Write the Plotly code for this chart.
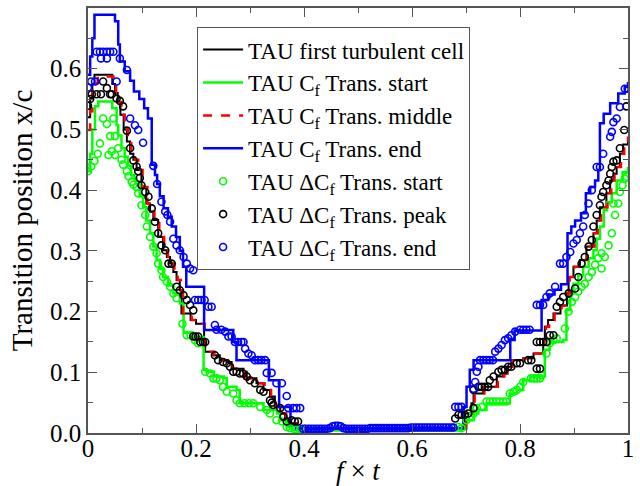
import plotly.graph_objects as go

# ---------------- line data (step curves) ----------------
black_x = [0.0, 0.004, 0.008, 0.012, 0.045, 0.050, 0.055, 0.060, 0.066, 0.072,
           0.078, 0.084, 0.09, 0.099, 0.108, 0.115, 0.121, 0.130, 0.139, 0.146,
           0.152, 0.158, 0.164, 0.170, 0.173, 0.190, 0.200, 0.215, 0.217, 0.232,
           0.244, 0.257, 0.266, 0.288, 0.294, 0.312, 0.325, 0.337, 0.346, 0.356,
           0.365, 0.374, 0.386, 0.698, 0.71, 0.714, 0.732, 0.757, 0.769, 0.775,
           0.784, 0.806, 0.825, 0.843, 0.846, 0.852, 0.862, 0.875, 0.887, 0.89,
           0.899, 0.911, 0.923, 0.936, 0.942, 0.948, 0.96, 0.967, 0.973, 0.979,
           0.985, 0.991, 1.0]
black_y = [0.52, 0.55, 0.575, 0.59, 0.575, 0.56, 0.545, 0.524, 0.50, 0.48,
           0.46, 0.45, 0.433, 0.405, 0.378, 0.365, 0.351, 0.323, 0.301, 0.29,
           0.279, 0.265, 0.252, 0.235, 0.197, 0.186, 0.18, 0.148, 0.134, 0.128,
           0.12, 0.117, 0.106, 0.101, 0.09, 0.082, 0.071, 0.06, 0.043, 0.032,
           0.021, 0.016, 0.007, 0.032, 0.049, 0.065, 0.076, 0.093, 0.098, 0.109,
           0.12, 0.123, 0.131, 0.153, 0.175, 0.186, 0.197, 0.21, 0.23, 0.257,
           0.274, 0.285, 0.307, 0.329, 0.35, 0.372, 0.395, 0.416, 0.427, 0.438,
           0.46, 0.475, 0.488]

green_x = [0.0, 0.004, 0.008, 0.013, 0.019, 0.045, 0.053, 0.056, 0.062, 0.068,
           0.074, 0.080, 0.086, 0.090, 0.096, 0.102, 0.108, 0.115, 0.121, 0.127,
           0.133, 0.139, 0.148, 0.158, 0.170, 0.177, 0.195, 0.214, 0.220, 0.233,
           0.252, 0.257, 0.275, 0.281, 0.325, 0.35, 0.356, 0.368, 0.378, 0.692,
           0.701, 0.714, 0.723, 0.738, 0.781, 0.794, 0.806, 0.819, 0.846, 0.855,
           0.880, 0.886, 0.893, 0.899, 0.908, 0.917, 0.927, 0.936, 0.942, 0.948,
           0.955, 0.961, 0.97, 0.979, 0.99, 1.0]
green_y = [0.431, 0.46, 0.50, 0.538, 0.546, 0.535, 0.507, 0.49, 0.469, 0.455,
           0.44, 0.425, 0.418, 0.411, 0.39, 0.372, 0.35, 0.329, 0.307, 0.285,
           0.27, 0.257, 0.243, 0.23, 0.2135, 0.165, 0.158, 0.104, 0.101, 0.093,
           0.09, 0.076, 0.071, 0.049, 0.038, 0.032, 0.021, 0.0104, 0.004, 0.008,
           0.021, 0.032, 0.038, 0.049, 0.065, 0.071, 0.087, 0.093, 0.137, 0.15,
           0.153, 0.2025, 0.23, 0.246, 0.26, 0.274, 0.288, 0.301, 0.32, 0.34,
           0.367, 0.38, 0.395, 0.416, 0.43, 0.438]

red_x = [0.0, 0.004, 0.008, 0.018, 0.047, 0.052, 0.057, 0.062, 0.068, 0.074,
         0.080, 0.087, 0.093, 0.101, 0.110, 0.117, 0.123, 0.132, 0.141, 0.148,
         0.154, 0.160, 0.166, 0.172, 0.176, 0.192, 0.202, 0.216, 0.218, 0.234,
         0.247, 0.259, 0.268, 0.284, 0.29, 0.296, 0.314, 0.327, 0.339, 0.348,
         0.358, 0.367, 0.376, 0.388, 0.700, 0.712, 0.716, 0.734, 0.759, 0.771,
         0.777, 0.786, 0.808, 0.827, 0.845, 0.848, 0.854, 0.864, 0.877, 0.889,
         0.892, 0.901, 0.913, 0.925, 0.938, 0.944, 0.950, 0.962, 0.969, 0.975,
         0.981, 0.987, 0.993, 1.0]
red_y = [0.499, 0.53, 0.576, 0.587, 0.575, 0.56, 0.545, 0.524, 0.50, 0.48,
         0.46, 0.45, 0.433, 0.405, 0.378, 0.365, 0.351, 0.323, 0.301, 0.29,
         0.279, 0.265, 0.252, 0.235, 0.197, 0.186, 0.18, 0.148, 0.134, 0.128,
         0.12, 0.117, 0.106, 0.101, 0.082, 0.09, 0.082, 0.071, 0.06, 0.043,
         0.032, 0.021, 0.016, 0.007, 0.032, 0.049, 0.065, 0.076, 0.093, 0.098,
         0.109, 0.12, 0.123, 0.131, 0.153, 0.175, 0.186, 0.197, 0.21, 0.23,
         0.257, 0.274, 0.285, 0.307, 0.329, 0.35, 0.372, 0.395, 0.416, 0.427,
         0.438, 0.46, 0.475, 0.488]

blue_x = [0.0, 0.004, 0.008, 0.012, 0.050, 0.056, 0.059, 0.068, 0.078, 0.085,
          0.095, 0.104, 0.111, 0.118, 0.124, 0.128, 0.133, 0.140, 0.148, 0.155,
          0.163, 0.170, 0.176, 0.182, 0.215, 0.269, 0.275, 0.335, 0.354, 0.375,
          0.385, 0.695, 0.701, 0.707, 0.714, 0.782, 0.79, 0.84, 0.852, 0.864,
          0.876, 0.888, 0.895, 0.902, 0.913, 0.922, 0.93, 0.939, 0.945, 0.948,
          0.955, 0.967, 0.982, 0.994, 1.0]
blue_y = [0.59, 0.62, 0.65, 0.689, 0.678, 0.640, 0.612, 0.596, 0.58, 0.5625,
          0.55, 0.535, 0.518, 0.442, 0.425, 0.41, 0.39, 0.37, 0.356, 0.34,
          0.323, 0.30, 0.274, 0.241, 0.1695, 0.150, 0.120, 0.087, 0.043, 0.012,
          0.008, 0.043, 0.076, 0.104, 0.12, 0.153, 0.169, 0.219, 0.228, 0.236,
          0.245, 0.329, 0.34, 0.35, 0.362, 0.395, 0.405, 0.416, 0.433, 0.51,
          0.526, 0.543, 0.559, 0.570, 0.578]

# ---------------- marker data ----------------
gs_x = [0.0, 0.006, 0.012, 0.018, 0.022, 0.028, 0.035, 0.041, 0.047, 0.05,
        0.038, 0.044, 0.05, 0.056, 0.062, 0.065, 0.072, 0.075, 0.081, 0.084,
        0.09, 0.093, 0.099, 0.106, 0.109, 0.115, 0.121, 0.127, 0.13, 0.136,
        0.139, 0.146, 0.152, 0.158, 0.164, 0.175, 0.183, 0.19, 0.198, 0.204,
        0.217, 0.226, 0.232, 0.238, 0.244, 0.25, 0.257, 0.269, 0.275, 0.281,
        0.29, 0.298, 0.306, 0.319, 0.331, 0.337, 0.349, 0.359, 0.368, 0.374,
        0.383, 0.393,
        0.686, 0.692, 0.701, 0.71, 0.714, 0.72, 0.729, 0.738, 0.744, 0.75,
        0.756, 0.762, 0.769, 0.775, 0.781, 0.788, 0.794, 0.8, 0.806, 0.82,
        0.826, 0.831, 0.837, 0.84, 0.849, 0.855, 0.862, 0.868, 0.883, 0.89,
        0.896, 0.902, 0.908, 0.914, 0.92, 0.927, 0.933, 0.939, 0.945, 0.951,
        0.951, 0.957, 0.964, 0.97, 0.976, 0.973, 0.982, 0.985, 0.99, 0.994,
        0.997]
gs_y = [0.431, 0.439, 0.448, 0.46, 0.477, 0.518, 0.509, 0.489, 0.518, 0.489,
        0.458, 0.464, 0.458, 0.469, 0.45, 0.442, 0.431, 0.423, 0.414, 0.409,
        0.405, 0.395, 0.375, 0.359, 0.34, 0.323, 0.307, 0.296, 0.279, 0.268,
        0.257, 0.249, 0.241, 0.23, 0.222, 0.18, 0.161, 0.161, 0.153, 0.148,
        0.101, 0.098, 0.09, 0.09, 0.087, 0.076, 0.068, 0.065, 0.054, 0.049,
        0.049, 0.049, 0.049, 0.043, 0.038, 0.032, 0.021, 0.019, 0.01, 0.008,
        0.006, 0.006,
        0.01, 0.008, 0.021, 0.027, 0.032, 0.041, 0.043, 0.052, 0.052, 0.052,
        0.052, 0.052, 0.052, 0.052, 0.065, 0.068, 0.071, 0.076, 0.084, 0.09,
        0.09, 0.09, 0.09, 0.095, 0.131, 0.148, 0.153, 0.156, 0.172, 0.2,
        0.216, 0.224, 0.233, 0.241, 0.246, 0.257, 0.265, 0.277, 0.288, 0.296,
        0.271, 0.29, 0.309, 0.329, 0.359, 0.378, 0.378, 0.397, 0.408, 0.419,
        0.422]

bp_x = [0.0, 0.004, 0.007, 0.016, 0.024, 0.028, 0.035, 0.041, 0.044, 0.053,
        0.059, 0.065, 0.072, 0.078, 0.084, 0.09, 0.093, 0.096, 0.099, 0.106,
        0.112, 0.118, 0.124, 0.13, 0.136, 0.143, 0.149, 0.155, 0.164, 0.17,
        0.177, 0.183, 0.189, 0.195, 0.195, 0.199, 0.204, 0.208, 0.213, 0.217,
        0.235, 0.241, 0.25, 0.257, 0.263, 0.269, 0.275, 0.281, 0.287, 0.294,
        0.3, 0.309, 0.319, 0.325, 0.337, 0.34, 0.343, 0.356, 0.362, 0.368,
        0.377, 0.383, 0.389,
        0.68, 0.686, 0.692, 0.698, 0.704, 0.714, 0.714, 0.723, 0.729, 0.735,
        0.741, 0.744, 0.751, 0.76, 0.766, 0.772, 0.778, 0.784, 0.794, 0.8,
        0.815, 0.821, 0.831, 0.837, 0.831, 0.837, 0.843, 0.849, 0.855, 0.862,
        0.868, 0.874, 0.88, 0.89, 0.902, 0.908, 0.914, 0.92, 0.927, 0.933,
        0.936, 0.942, 0.948, 0.951, 0.954, 0.96, 0.964, 0.967, 0.97, 0.973,
        0.979, 0.985, 0.993, 0.997]
bp_y = [0.539, 0.55, 0.558, 0.558, 0.558, 0.579, 0.568, 0.558, 0.558, 0.551,
        0.547, 0.538, 0.498, 0.469, 0.449, 0.439, 0.431, 0.42, 0.408, 0.397,
        0.389, 0.37, 0.348, 0.329, 0.309, 0.301, 0.279, 0.279, 0.241, 0.235,
        0.227, 0.219, 0.211, 0.202, 0.159, 0.159, 0.159, 0.15, 0.15, 0.15,
        0.128, 0.12, 0.117, 0.115, 0.109, 0.101, 0.101, 0.098, 0.098, 0.093,
        0.087, 0.082, 0.071, 0.068, 0.054, 0.05, 0.046, 0.041, 0.027, 0.019,
        0.021, 0.019, 0.019,
        0.024, 0.03, 0.03, 0.03, 0.032, 0.041, 0.071, 0.076, 0.076, 0.076,
        0.076, 0.087, 0.093, 0.101, 0.104, 0.104, 0.109, 0.109, 0.115, 0.115,
        0.12, 0.12, 0.106, 0.106, 0.15, 0.15, 0.15, 0.15, 0.161, 0.161,
        0.208, 0.216, 0.224, 0.23, 0.238, 0.257, 0.279, 0.29, 0.307, 0.318,
        0.34, 0.359, 0.375, 0.389, 0.397, 0.408, 0.416, 0.427, 0.438, 0.447,
        0.449, 0.469, 0.499, 0.538]

be_x = [0.0, 0.006, 0.013, 0.016, 0.022, 0.028, 0.035, 0.041, 0.047, 0.024,
        0.035, 0.053, 0.059, 0.072, 0.078, 0.087, 0.093, 0.102, 0.121, 0.128,
        0.136, 0.143, 0.147, 0.152, 0.158, 0.164, 0.17, 0.177, 0.183, 0.189,
        0.195, 0.198, 0.204, 0.21, 0.216, 0.223, 0.229, 0.235, 0.238, 0.247,
        0.254, 0.26, 0.266, 0.272, 0.278, 0.284, 0.288, 0.291, 0.297, 0.303,
        0.309, 0.315, 0.321, 0.328, 0.331, 0.34, 0.349, 0.359, 0.368, 0.371,
        0.38, 0.386, 0.393,
        0.398, 0.403, 0.408, 0.413, 0.418, 0.423, 0.428, 0.433, 0.438, 0.443,
        0.448, 0.453, 0.458, 0.463, 0.468, 0.473, 0.478, 0.483, 0.488, 0.493,
        0.498, 0.503, 0.508, 0.513, 0.518, 0.523, 0.528, 0.533, 0.538, 0.543,
        0.548, 0.553, 0.558, 0.563, 0.568, 0.573, 0.578, 0.583, 0.588, 0.593,
        0.598, 0.603, 0.608, 0.613, 0.618, 0.623, 0.628, 0.633, 0.638, 0.643,
        0.648, 0.653, 0.658, 0.663, 0.668, 0.673, 0.677,
        0.68, 0.686, 0.692, 0.714, 0.717, 0.72, 0.723, 0.726, 0.732, 0.738,
        0.744, 0.75, 0.754, 0.76, 0.766, 0.772, 0.778, 0.784, 0.791, 0.8,
        0.806, 0.812, 0.818, 0.831, 0.837, 0.843, 0.849, 0.855, 0.865, 0.874,
        0.88, 0.886, 0.893, 0.899, 0.905, 0.911, 0.917, 0.92, 0.927, 0.933,
        0.942, 0.948, 0.954, 0.967, 0.97, 0.973, 0.979, 0.985, 0.994, 1.0]
be_y = [0.569, 0.579, 0.579, 0.628, 0.628, 0.628, 0.628, 0.628, 0.628, 0.617,
        0.617, 0.579, 0.617, 0.598, 0.518, 0.507, 0.499, 0.478, 0.44, 0.41,
        0.381, 0.365, 0.359, 0.348, 0.32, 0.309, 0.301, 0.29, 0.279, 0.271,
        0.268, 0.219, 0.219, 0.219, 0.219, 0.208, 0.208, 0.178, 0.17, 0.17,
        0.167, 0.159, 0.159, 0.15, 0.15, 0.15, 0.15, 0.139, 0.131, 0.128,
        0.12, 0.12, 0.12, 0.12, 0.099, 0.099, 0.082, 0.082, 0.061, 0.041,
        0.041, 0.041, 0.041,
        0.007, 0.007, 0.007, 0.007, 0.007, 0.007, 0.007, 0.007, 0.007, 0.007,
        0.008, 0.011, 0.012, 0.012, 0.011, 0.008, 0.007, 0.007, 0.007, 0.007,
        0.007, 0.007, 0.007, 0.007, 0.007, 0.008, 0.008, 0.008, 0.008, 0.008,
        0.008, 0.008, 0.008, 0.008, 0.008, 0.008, 0.008, 0.008, 0.008, 0.008,
        0.009, 0.009, 0.009, 0.009, 0.009, 0.009, 0.009, 0.009, 0.009, 0.009,
        0.009, 0.009, 0.009, 0.009, 0.009, 0.009, 0.009,
        0.043, 0.043, 0.043, 0.073, 0.084, 0.101, 0.109, 0.12, 0.12, 0.12,
        0.12, 0.12, 0.134, 0.139, 0.145, 0.153, 0.156, 0.161, 0.167, 0.17,
        0.17, 0.17, 0.17, 0.211, 0.211, 0.211, 0.224, 0.23, 0.241, 0.279,
        0.279, 0.29, 0.298, 0.312, 0.318, 0.329, 0.34, 0.359, 0.378, 0.4,
        0.438, 0.438, 0.46, 0.488, 0.496, 0.512, 0.518, 0.537, 0.567, 0.567]

x_ticks = [0, 0.2, 0.4, 0.6, 0.8, 1.0]
x_ticklabels = ["0", "0.2", "0.4", "0.6", "0.8", "1"]
y_ticks = [0.0, 0.1, 0.2, 0.3, 0.4, 0.5, 0.6]
y_ticklabels = ["0.0", "0.1", "0.2", "0.3", "0.4", "0.5", "0.6"]

GREEN = "#00ff00"
BLUE = "#0000ff"
RED = "#ff0000"
BLACK = "#000000"
FONT = "Liberation Serif"

fig = go.Figure()
fig.add_trace(go.Scatter(x=black_x, y=black_y, mode="lines", line_shape="hv",
                         line=dict(color=BLACK, width=2),
                         name="TAU first turbulent cell"))
fig.add_trace(go.Scatter(x=green_x, y=green_y, mode="lines", line_shape="hv",
                         line=dict(color=GREEN, width=2.5),
                         name="TAU C<sub>f</sub> Trans. start"))
fig.add_trace(go.Scatter(x=red_x, y=red_y, mode="lines", line_shape="hv",
                         line=dict(color=RED, width=2.5, dash="dash"),
                         name="TAU C<sub>f</sub> Trans. middle"))
fig.add_trace(go.Scatter(x=blue_x, y=blue_y, mode="lines", line_shape="hv",
                         line=dict(color=BLUE, width=2.5),
                         name="TAU C<sub>f</sub> Trans. end"))
mk = dict(symbol="circle-open", size=7, line=dict(width=1.6))
fig.add_trace(go.Scatter(x=gs_x, y=gs_y, mode="markers",
                         marker=dict(color=GREEN, **mk),
                         name="TAU ΔC<sub>f</sub> Trans. start"))
fig.add_trace(go.Scatter(x=bp_x, y=bp_y, mode="markers",
                         marker=dict(color=BLACK, **mk),
                         name="TAU ΔC<sub>f</sub> Trans. peak"))
fig.add_trace(go.Scatter(x=be_x, y=be_y, mode="markers",
                         marker=dict(color=BLUE, **mk),
                         name="TAU ΔC<sub>f</sub> Trans. end"))

axis_common = dict(showline=True, linecolor="#555555", linewidth=1.5, mirror="ticks",
                   ticks="inside", tickcolor="#555555", tickwidth=1.2, ticklen=9,
                   showgrid=False, zeroline=False, automargin=False,
                   tickfont=dict(family=FONT, size=25, color="black"))

fig.update_xaxes(range=[0, 1], tickvals=x_ticks, ticktext=x_ticklabels,
                 minor=dict(dtick=0.1, ticks="inside", ticklen=5, tickcolor="#555555", tickwidth=1.2),
                 title=dict(text="<i>f</i> × <i>t</i>", font=dict(family=FONT, size=27, color="black"),
                            standoff=0),
                 ticklabelstandoff=-8,
                 **axis_common)
fig.update_yaxes(range=[0, 0.7], tickvals=y_ticks, ticktext=y_ticklabels,
                 minor=dict(dtick=0.05, ticks="inside", ticklen=5, tickcolor="#555555", tickwidth=1.2),
                 title=dict(text="Transition position x/c", font=dict(family=FONT, size=29, color="black"),
                            standoff=9),
                 **axis_common)

fig.update_layout(
    width=640, height=486,
    margin=dict(l=88, r=12, t=8, b=53),
    plot_bgcolor="white", paper_bgcolor="white",
    font=dict(family=FONT, color="black"),
    legend=dict(x=0.202, y=0.955, xanchor="left", yanchor="top",
                bgcolor="white", bordercolor="#555555", borderwidth=1,
                font=dict(family=FONT, size=23, color="black"),
                tracegroupgap=0, itemwidth=40,
                entrywidth=252, entrywidthmode="pixels"),
    showlegend=True,
)

fig.write_html("out.html")
